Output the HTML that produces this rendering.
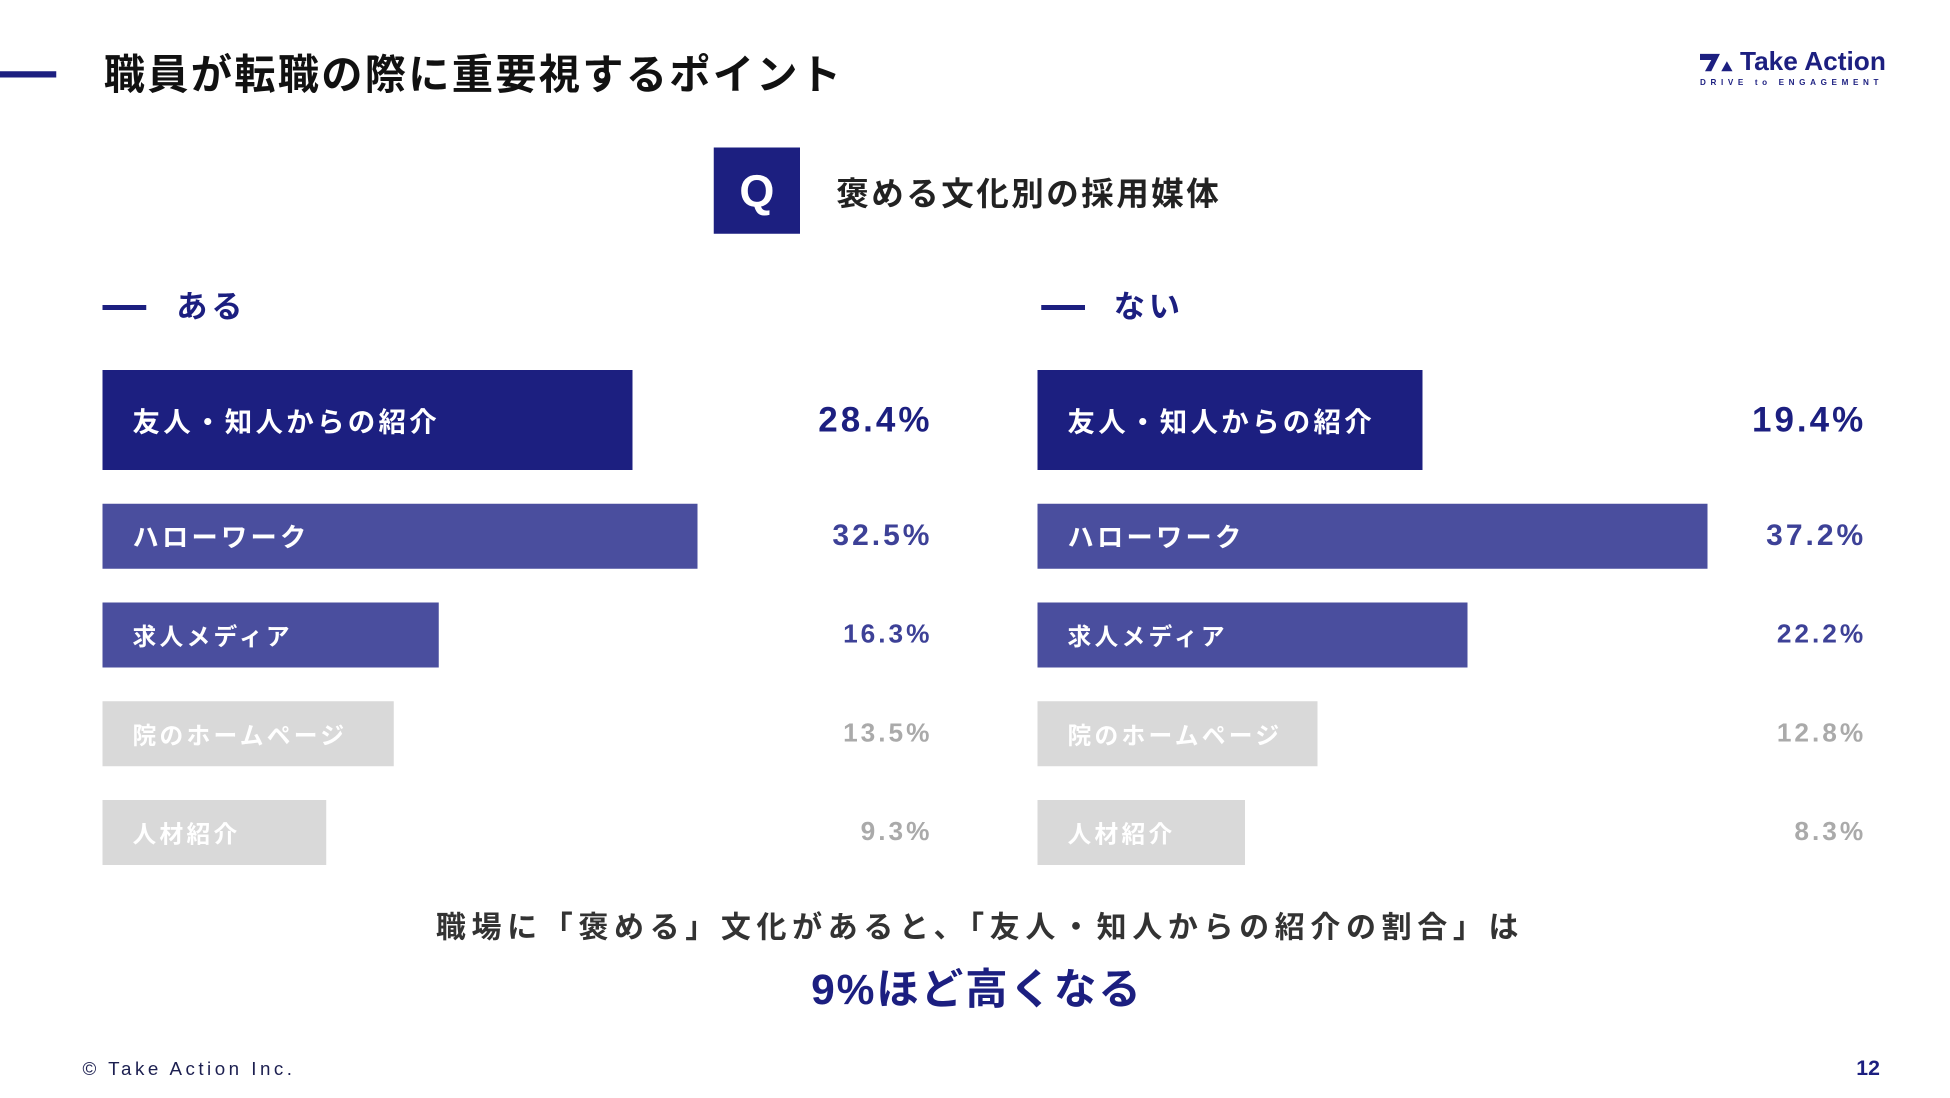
<!DOCTYPE html>
<html><head><meta charset="utf-8">
<style>
html,body{margin:0;padding:0;background:#fff;}
body{width:1950px;height:1097px;overflow:hidden;position:relative;}
#stage{position:absolute;left:0;top:0;width:1560px;height:878px;transform:scale(1.25);transform-origin:0 0;font-family:"Liberation Sans","Noto Sans CJK JP",sans-serif;font-weight:bold;}
.abs{position:absolute;white-space:nowrap;}
.lbl{position:absolute;color:#fff;white-space:nowrap;letter-spacing:2.6px;display:flex;align-items:center;}
.val{position:absolute;white-space:nowrap;text-align:right;letter-spacing:2.4px;display:flex;align-items:center;justify-content:flex-end;width:200px;}
</style></head>
<body>
<div id="stage">
  <div class="abs" style="left:0;top:57px;width:45px;height:5px;background:#1c1f80"></div>
  <div class="abs" style="left:83px;top:40px;font-size:33px;letter-spacing:1.8px;color:#111;line-height:40px">職員が転職の際に重要視するポイント</div>

  <div class="abs" style="left:1360px;top:40px;width:160px;height:32px">
    <svg width="30" height="18" style="position:absolute;left:0;top:3px"><polygon points="0,0 16,0 9,14 4,14 9,5 0,5" fill="#1c1f80"/><polygon points="17,14 21.5,6 26,14" fill="#1c1f80"/></svg>
    <div class="abs" style="left:32px;top:-2px;font-size:21px;color:#1c1f80;line-height:24px">Take Action</div>
    <div class="abs" style="left:0;top:23px;font-size:6.5px;letter-spacing:3.7px;color:#1c1f80">DRIVE to ENGAGEMENT</div>
  </div>

  <div class="abs" style="left:571px;top:118px;width:69px;height:69px;background:#1c1f80;color:#fff;font-size:36px;display:flex;align-items:center;justify-content:center">Q</div>
  <div class="abs" style="left:669px;top:139px;font-size:26px;letter-spacing:2px;color:#222;line-height:32px">褒める文化別の採用媒体</div>

  <div class="abs" style="left:82px;top:244px;width:35px;height:4px;background:#1c1f80"></div>
  <div class="abs" style="left:141px;top:230px;font-size:25px;letter-spacing:3px;color:#1c1f80;line-height:32px">ある</div>
  <div class="abs" style="left:833px;top:244px;width:35px;height:4px;background:#1c1f80"></div>
  <div class="abs" style="left:891px;top:230px;font-size:25px;letter-spacing:3px;color:#1c1f80;line-height:32px">ない</div>

  <div id="charts"></div>

  <div class="abs" style="left:0;width:1568px;text-align:center;top:727px;font-size:24px;letter-spacing:4.5px;color:#333;line-height:32px">職場に「褒める」文化があると、「友人・知人からの紹介の割合」は</div>
  <div class="abs" style="left:0;width:1563px;text-align:center;top:771px;font-size:34px;letter-spacing:1.5px;color:#1c1f80;line-height:42px">9%ほど高くなる</div>

  <div class="abs" style="left:66px;top:847px;font-size:15px;letter-spacing:2.8px;color:#1c1f50;font-weight:normal">© Take Action Inc.</div>
  <div class="abs" style="left:1485px;top:845px;font-size:17px;color:#1c1f80">12</div>
</div>
<script>
const categories = ["友人・知人からの紹介","ハローワーク","求人メディア","院のホームページ","人材紹介"];
const valuesAru = [28.4, 32.5, 16.3, 13.5, 9.3];
const valuesNai = [19.4, 37.2, 22.2, 12.8, 8.3];
const valueLabelsAru = ["28.4%","32.5%","16.3%","13.5%","9.3%"];
const valueLabelsNai = ["19.4%","37.2%","22.2%","12.8%","8.3%"];

const rowTop = [296, 403, 482, 561, 640];
const rowH = [80, 52, 52, 52, 52];
const barColor = ["#1c1f80","#4a4e9e","#4a4e9e","#d9d9d9","#d9d9d9"];
const valColor = ["#1c1f80","#3d4197","#3d4197","#aaaaaa","#aaaaaa"];
const lblSize = [22, 21, 19, 19, 19];
const valSize = [28, 24, 21, 21, 21];
function xScale(v){ return 60 + 12.8 * v; }

const host = document.getElementById('charts');
function drawPanel(x0, valueRight, values, labels, key){
  values.forEach((v, i) => {
    const bar = document.createElement('div');
    
    
    bar.style.cssText = 'position:absolute;left:'+x0+'px;top:'+rowTop[i]+'px;width:'+xScale(v)+'px;height:'+rowH[i]+'px;background:'+barColor[i];
    host.appendChild(bar);
    const lbl = document.createElement('div');
    lbl.className = 'lbl';
    
    
    lbl.style.cssText = 'left:'+(x0+24)+'px;top:'+rowTop[i]+'px;height:'+rowH[i]+'px;font-size:'+lblSize[i]+'px';
    lbl.textContent = categories[i];
    host.appendChild(lbl);
    const val = document.createElement('div');
    val.className = 'val';
    
    
    val.style.cssText = 'left:'+(valueRight-198)+'px;top:'+rowTop[i]+'px;height:'+rowH[i]+'px;font-size:'+valSize[i]+'px;color:'+valColor[i];
    val.textContent = labels[i];
    host.appendChild(val);
  });
}
drawPanel(82, 744, valuesAru, valueLabelsAru, 'aru');
drawPanel(830, 1491, valuesNai, valueLabelsNai, 'nai');
</script>
</body></html>
